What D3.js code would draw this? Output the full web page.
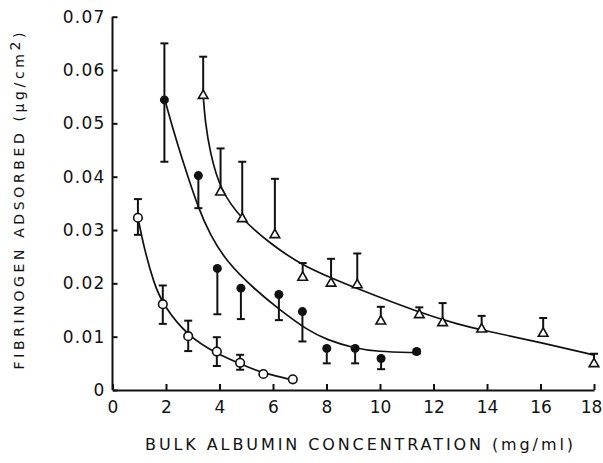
<!DOCTYPE html>
<html>
<head>
<meta charset="utf-8">
<script src="https://cdn.jsdelivr.net/npm/d3@7"></script>
<style>
  body { margin: 0; background: #fff; }
  text { font-family: "DejaVu Sans", sans-serif; fill: #111; }
</style>
</head>
<body>
<svg width="603" height="463"></svg>
<script>
// ---- data ----
// open circles
const openX = [0.95, 1.88, 2.83, 3.90, 4.77, 5.64, 6.74]
const openY = [0.0323, 0.0161, 0.0101, 0.0072, 0.0051, 0.0030, 0.0020]
const openLo = [0.0291, 0.0124, 0.0073, 0.0045, 0.0038, null, null]
const openHi = [0.0358, 0.0196, 0.0130, 0.0099, 0.0066, null, null]

// filled circles
const filledX = [1.94, 3.21, 3.92, 4.80, 6.22, 7.10, 8.01, 9.07, 10.04, 11.37]
const filledY = [0.0544, 0.0402, 0.0228, 0.0191, 0.0179, 0.0147, 0.0078, 0.0078, 0.0059, 0.0072]
const filledLo = [0.0428, 0.0341, 0.0142, 0.0133, 0.0131, 0.0091, 0.0050, 0.0050, 0.0039, 0.0068]
const filledHi = [0.0650, null, null, null, null, null, null, null, null, 0.0076]

// triangles
const triX = [3.39, 4.04, 4.85, 6.07, 7.11, 8.17, 9.15, 10.03, 11.47, 12.34, 13.80, 16.10, 18.0]
const triY = [0.0552, 0.0371, 0.0321, 0.0291, 0.0211, 0.0200, 0.0197, 0.0129, 0.0141, 0.0126, 0.0114, 0.0106, 0.0049]
const triHi = [0.0625, 0.0453, 0.0428, 0.0396, 0.0238, 0.0246, 0.0256, 0.0156, 0.0155, 0.0163, 0.0139, 0.0135, 0.0068]

// hand-drawn fitted curves
const openFitX = [0.95, 1.2, 1.55, 1.88, 2.83, 3.9, 4.77, 5.64, 6.74]
const openFitY = [0.0323, 0.0262, 0.0200, 0.0160, 0.0100, 0.0068, 0.0049, 0.0031, 0.0019]
const filledFitX = [1.96, 2.3, 2.75, 3.21, 3.64, 4.27, 5.33, 6.26, 7.26, 8.01, 9.07, 9.88, 11.37]
const filledFitY = [0.0544, 0.0482, 0.0410, 0.0341, 0.0292, 0.0240, 0.0188, 0.0150, 0.0113, 0.0094, 0.0078, 0.0072, 0.0070]
const triFitX = [3.39, 3.46, 3.64, 4.02, 4.83, 5.89, 7.13, 9.25, 11.37, 12.99, 13.86, 16.10, 17.97]
const triFitY = [0.0553, 0.0505, 0.0447, 0.0375, 0.0320, 0.0275, 0.0231, 0.0188, 0.0147, 0.0122, 0.0112, 0.0088, 0.0066]

const xTicks = [0, 2, 4, 6, 8, 10, 12, 14, 16, 18]
const yTicks = [0, 0.01, 0.02, 0.03, 0.04, 0.05, 0.06, 0.07]
const xTitle = "BULK ALBUMIN CONCENTRATION (mg/ml)"

let svg = d3.select('svg')

const x = d3.scaleLinear().domain([0, 18]).range([112.5, 594])
const y = d3.scaleLinear().domain([0, 0.07]).range([390, 16.7])

const zip = (xs, ys) => xs.map((v, i) => [v, ys[i]])

// axes
const yAxis = d3.axisLeft(y)
	.tickValues(yTicks)
	.tickSizeInner(-5)
	.tickSizeOuter(0)
	.tickPadding(7)
	.tickFormat(d => d === 0 ? "0" : d3.format(".2f")(d))

const xAxis = d3.axisBottom(x)
	.tickValues(xTicks)
	.tickSizeInner(-6)
	.tickSizeOuter(0)
	.tickPadding(11)
	.tickFormat(d3.format("d"))

const gy = svg.append("g").attr("transform", `translate(${x(0)},0)`).call(yAxis)
const gx = svg.append("g").attr("transform", `translate(0,${y(0)})`).call(xAxis)

for (const g of [gx, gy]) {
	g.select(".domain").attr("stroke", "#111").attr("stroke-width", 2)
	g.selectAll(".tick line").attr("stroke", "#111").attr("stroke-width", 2)
	g.selectAll(".tick text")
		.attr("font-family", "DejaVu Sans, sans-serif")
		.attr("font-size", 17)
		.attr("fill", "#111")
}
gy.selectAll(".tick text").attr("letter-spacing", 1.2)
gx.selectAll(".tick text").attr("letter-spacing", 0)
	.attr("dx", d => d === 18 ? -3 : 0)
gy.select(".domain").attr("d", `M0,${y(0)}V${y(0.07)}`)

// axis titles
svg.append("text")
	.attr("x", 359)
	.attr("y", 450)
	.attr("text-anchor", "middle")
	.attr("font-size", 16)
	.attr("textLength", 428)
	.attr("lengthAdjust", "spacing")
	.text(xTitle)

const yt = svg.append("text")
	.attr("transform", "translate(24,201) rotate(-90)")
	.attr("text-anchor", "middle")
	.attr("font-size", 14)
	.attr("textLength", 337)
	.attr("lengthAdjust", "spacing")
yt.append("tspan").text("FIBRINOGEN ADSORBED (μg/cm")
yt.append("tspan").attr("dy", -4).text("2")
yt.append("tspan").attr("dy", 4).text(")")

// fitted curves
const line = d3.line()
	.x(d => x(d[0]))
	.y(d => y(d[1]))
	.curve(d3.curveBasis)

const curves = svg.append("g")
	.attr("fill", "none")
	.attr("stroke", "#111")
	.attr("stroke-width", 1.7)

curves.selectAll("path")
	.data([zip(openFitX, openFitY), zip(filledFitX, filledFitY), zip(triFitX, triFitY)])
	.join("path")
	.attr("d", line)

// error bars
function errorBars(xs, ys, lo, hi) {
	const bars = []
	xs.forEach((v, i) => {
		if (lo && lo[i] != null) bars.push({ x: v, from: ys[i], to: lo[i] })
		if (hi && hi[i] != null) bars.push({ x: v, from: ys[i], to: hi[i] })
	})
	const g = svg.append("g").attr("stroke", "#111").attr("stroke-width", 2)
	g.selectAll("line.stem")
		.data(bars)
		.join("line")
		.attr("class", "stem")
		.attr("x1", d => x(d.x)).attr("x2", d => x(d.x))
		.attr("y1", d => y(d.from)).attr("y2", d => y(d.to))
	g.selectAll("line.cap")
		.data(bars)
		.join("line")
		.attr("class", "cap")
		.attr("x1", d => x(d.x) - 4).attr("x2", d => x(d.x) + 4)
		.attr("y1", d => y(d.to)).attr("y2", d => y(d.to))
}

errorBars(openX, openY, openLo, openHi)
errorBars(filledX, filledY, filledLo, filledHi)
errorBars(triX, triY, null, triHi)

// markers
svg.append("g")
	.selectAll("circle")
	.data(zip(openX, openY))
	.join("circle")
	.attr("cx", d => x(d[0]))
	.attr("cy", d => y(d[1]))
	.attr("r", 4.3)
	.attr("fill", "#fff")
	.attr("stroke", "#111")
	.attr("stroke-width", 1.6)

svg.append("g")
	.selectAll("circle")
	.data(zip(filledX, filledY))
	.join("circle")
	.attr("cx", d => x(d[0]))
	.attr("cy", d => y(d[1]))
	.attr("r", 4.5)
	.attr("fill", "#111")

const tri = d3.symbol().type(d3.symbolTriangle).size(40)
svg.append("g")
	.selectAll("path")
	.data(zip(triX, triY))
	.join("path")
	.attr("transform", d => `translate(${x(d[0])},${y(d[1])})`)
	.attr("d", tri)
	.attr("fill", "#fff")
	.attr("stroke", "#111")
	.attr("stroke-width", 1.6)
</script>
</body>
</html>
